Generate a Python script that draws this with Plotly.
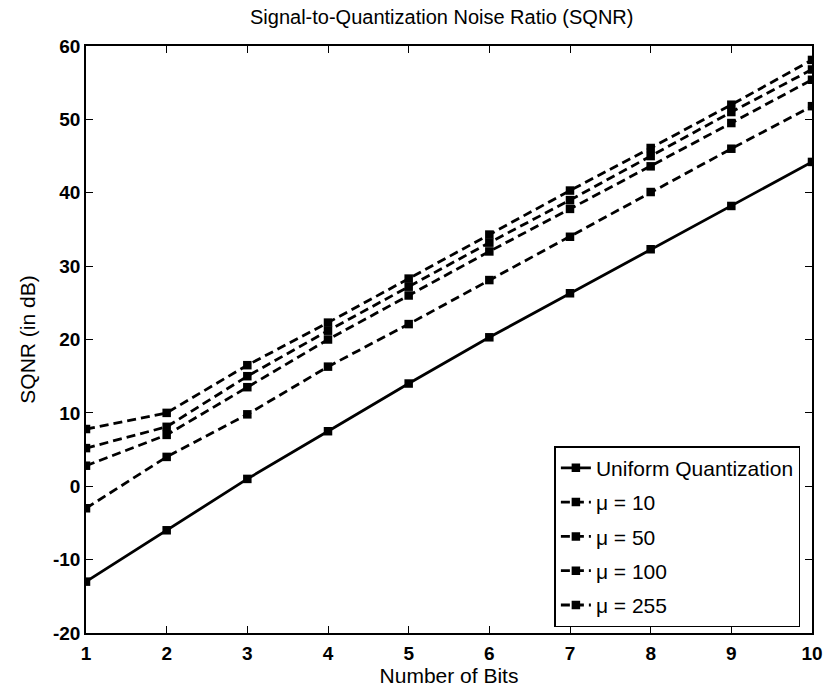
import plotly.graph_objects as go

bits = [1, 2, 3, 4, 5, 6, 7, 8, 9, 10]
uniform = [-13.0, -6.0, 1.0, 7.5, 14.0, 20.3, 26.3, 32.3, 38.2, 44.2]
mu10 = [-3.0, 4.0, 9.8, 16.3, 22.1, 28.1, 34.0, 40.1, 46.0, 51.8]
mu50 = [2.8, 7.0, 13.5, 20.0, 26.0, 32.0, 37.8, 43.6, 49.5, 55.4]
mu100 = [5.2, 8.1, 15.0, 21.2, 27.2, 33.2, 39.0, 45.0, 51.0, 56.8]
mu255 = [7.8, 10.0, 16.5, 22.3, 28.3, 34.3, 40.3, 46.1, 52.0, 58.1]

y_tickvals = [-20, -10, 0, 10, 20, 30, 40, 50, 60]
y_ticktext = ["-20", "-10", "0", "10", "20", "30", "40", "50", "60"]
x_ticktext = ["1", "2", "3", "4", "5", "6", "7", "8", "9", "10"]

series = [
    ("Uniform Quantization", uniform, "solid"),
    ("\u03bc = 10", mu10, "9px,5px"),
    ("\u03bc = 50", mu50, "9px,5px"),
    ("\u03bc = 100", mu100, "9px,5px"),
    ("\u03bc = 255", mu255, "9px,5px"),
]

FONT = "Liberation Sans, Arial, Helvetica, sans-serif"

fig = go.Figure()
for i, (name, vals, dash) in enumerate(series):
    fig.add_trace(go.Scatter(
        x=bits, y=vals, name=name, mode="lines+markers",
        line=dict(color="black", width=2.8, dash=dash),
        marker=dict(symbol="square", size=8.5, color="black"),
        legendgroup="g%d" % i,
    ))

axis_common = dict(
    showgrid=False, zeroline=False, showline=True, linecolor="black", linewidth=1.6,
    mirror="ticks", ticks="inside", ticklen=7, tickwidth=1.2, tickcolor="black",
    tickfont=dict(family=FONT, size=19, color="black", weight="bold"),
)

fig.update_layout(
    width=835, height=695,
    margin=dict(l=86, r=13, t=46, b=62),
    paper_bgcolor="white", plot_bgcolor="white",
    title=dict(text="Signal-to-Quantization Noise Ratio (SQNR)",
               font=dict(family=FONT, size=20, color="black"),
               x=0.49, xref="paper", xanchor="center",
               y=0.975, yref="container", yanchor="middle"),
    xaxis=dict(range=[1, 10], tickvals=bits, ticktext=x_ticktext, ticklabelstandoff=2,
               title=dict(text="Number of Bits", font=dict(family=FONT, size=21, color="black"), standoff=2),
               **axis_common),
    yaxis=dict(range=[-20, 60], tickvals=y_tickvals, ticktext=y_ticktext,
               ticklabelstandoff=0,
               title=dict(text="SQNR (in dB)", font=dict(family=FONT, size=21, color="black"), standoff=12),
               **axis_common),
    legend=dict(x=0.984, y=0.01, xanchor="right", yanchor="bottom",
                bgcolor="white", bordercolor="black", borderwidth=1.5,
                font=dict(family=FONT, size=21, color="black"),
                tracegroupgap=4),
    showlegend=True,
)

fig.write_html("out.html")
